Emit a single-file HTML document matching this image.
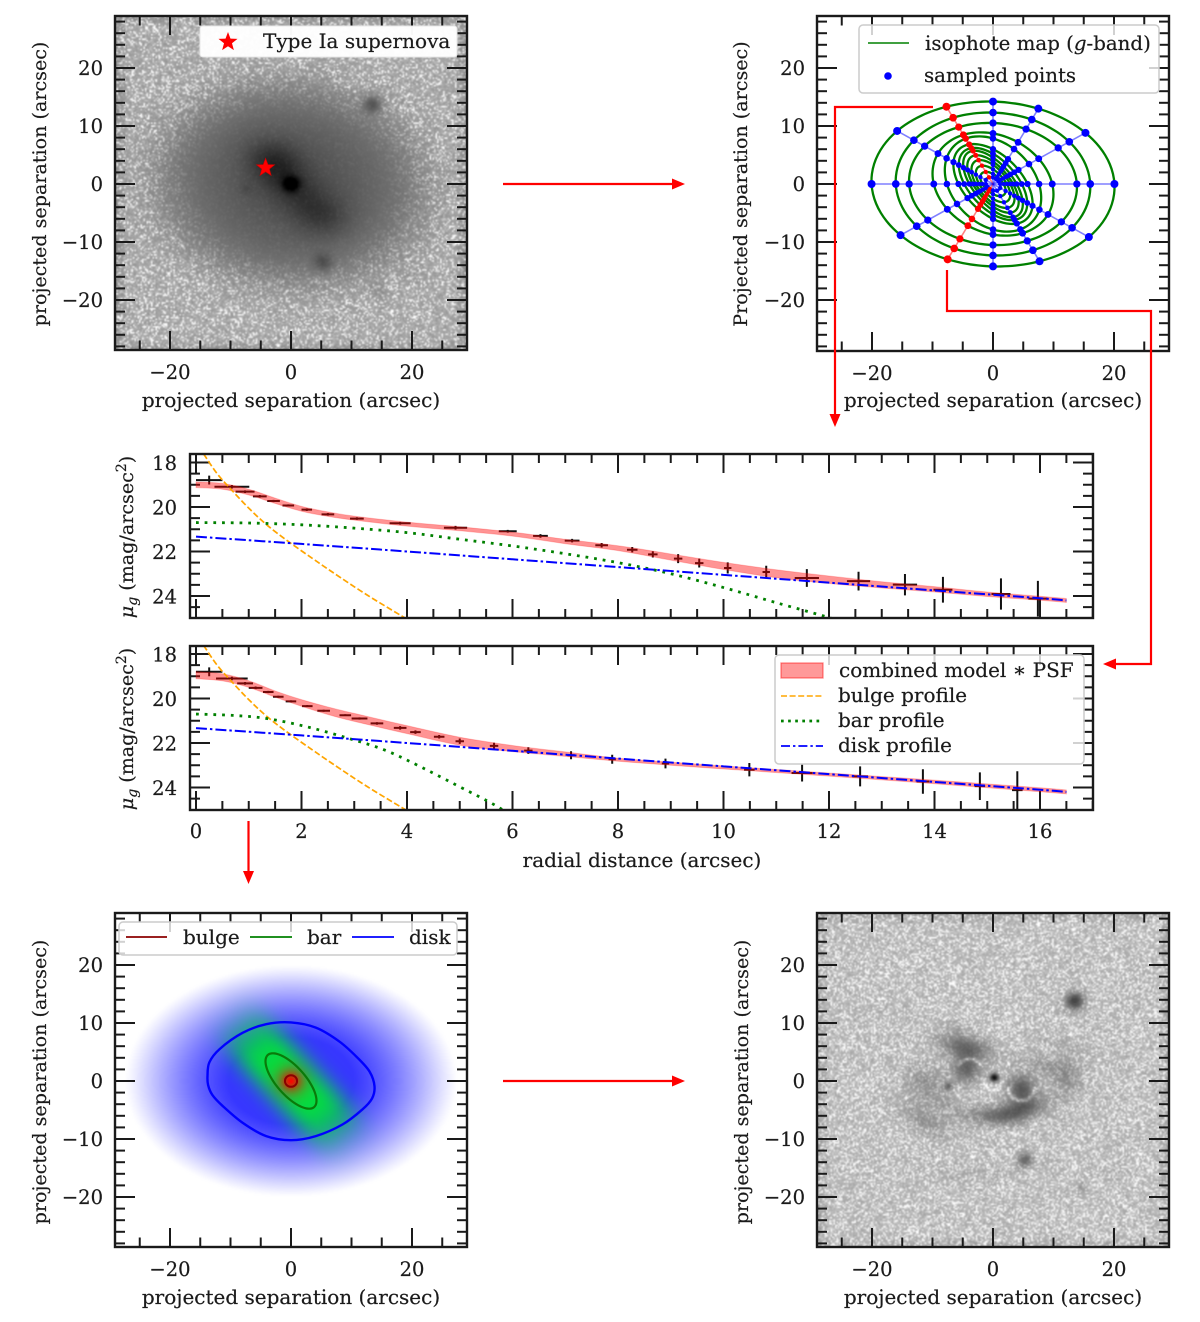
<!DOCTYPE html>
<html lang="en">
<head>
<meta charset="utf-8">
<title>Galaxy decomposition figure</title>
<style>
html,body{margin:0;padding:0;background:#fff;}
#stage{position:relative;width:1200px;height:1322px;overflow:hidden;background:#fff;}
canvas{position:absolute;width:352px;height:334px;filter:blur(.4px);}
svg{position:absolute;left:0;top:0;filter:blur(.3px);}
text{font-family:"DejaVu Serif","Liberation Serif",serif;font-size:20px;fill:#1a1a1a;stroke:#1a1a1a;stroke-width:.2;}
text.tick{font-size:19.5px;}
text.ylab{font-size:19.1px;}
.leg{fill:#fff;fill-opacity:.8;stroke:#ccc;stroke-width:1.5;}
.arrow{stroke:#f00;stroke-width:2.2;fill:none;}
.head{fill:#f00;stroke:none;}
</style>
</head>
<body>
<div id="stage">
<canvas id="cA" width="235" height="223" style="left:115px;top:16px"></canvas>
<canvas id="cD" width="235" height="223" style="left:115px;top:913px"></canvas>
<canvas id="cE" width="235" height="223" style="left:817px;top:913px"></canvas>
<svg id="fig" width="1200" height="1322" viewBox="0 0 1200 1322" xmlns="http://www.w3.org/2000/svg">
<defs>
<clipPath id="clipP1"><rect x="190" y="454" width="903" height="164"/></clipPath>
<clipPath id="clipP2"><rect x="190" y="646" width="903" height="164"/></clipPath>
</defs>
<g id="panelA"></g>
<g id="panelB"></g>
<g id="panelP1"></g>
<g id="panelP2"></g>
<g id="panelD"></g>
<g id="panelE"></g>

<!-- axis titles -->
<text x="291" y="407" text-anchor="middle">projected separation (arcsec)</text>
<text class="ylab" transform="translate(46,184) rotate(-90)" text-anchor="middle">projected separation (arcsec)</text>
<text x="993" y="407" text-anchor="middle">projected separation (arcsec)</text>
<text class="ylab" transform="translate(747,184) rotate(-90)" text-anchor="middle">Projected separation (arcsec)</text>
<text x="291" y="1304" text-anchor="middle">projected separation (arcsec)</text>
<text class="ylab" transform="translate(46,1082) rotate(-90)" text-anchor="middle">projected separation (arcsec)</text>
<text x="993" y="1304" text-anchor="middle">projected separation (arcsec)</text>
<text class="ylab" transform="translate(748,1082) rotate(-90)" text-anchor="middle">projected separation (arcsec)</text>
<text x="642" y="867" text-anchor="middle">radial distance (arcsec)</text>
<text class="ylab" transform="translate(133,537) rotate(-90)" text-anchor="middle"><tspan font-style="italic">μ</tspan><tspan font-style="italic" font-size="14" dy="4">g</tspan><tspan dy="-4"> (mag/arcsec</tspan><tspan font-size="14" dy="-7">2</tspan><tspan dy="7">)</tspan></text>
<text class="ylab" transform="translate(133,729) rotate(-90)" text-anchor="middle"><tspan font-style="italic">μ</tspan><tspan font-style="italic" font-size="14" dy="4">g</tspan><tspan dy="-4"> (mag/arcsec</tspan><tspan font-size="14" dy="-7">2</tspan><tspan dy="7">)</tspan></text>

<!-- legend: supernova -->
<g>
<rect x="200" y="26" width="257" height="31" rx="3" fill="#fff" fill-opacity=".97" stroke="#e6e6e6"/>
<g id="legStar"></g>
<text x="263" y="48">Type Ia supernova</text>
</g>

<!-- legend: isophotes -->
<g>
<rect class="leg" x="859" y="25" width="300" height="68" rx="4"/>
<line x1="868" y1="43" x2="909" y2="43" stroke="#008000" stroke-width="1.5"/>
<text x="925" y="50" font-size="19.8" style="font-size:19.8px">isophote map (<tspan font-style="italic">g</tspan>-band)</text>
<circle cx="888" cy="76" r="3.8" fill="#00f"/>
<text x="924" y="82" style="font-size:19.8px">sampled points</text>
</g>

<!-- legend: profile -->
<g>
<rect class="leg" x="775" y="655" width="309" height="109" rx="4"/>
<rect x="781" y="663" width="42" height="15" fill="#f00" fill-opacity=".4" stroke="#f00" stroke-opacity=".45" stroke-width="1.3"/>
<text x="839" y="677">combined model ∗ PSF</text>
<line x1="781" y1="696" x2="823" y2="696" stroke="#ffa500" stroke-width="1.6" stroke-dasharray="6 2.6"/>
<text x="838" y="702">bulge profile</text>
<line x1="781" y1="721" x2="823" y2="721" stroke="#008000" stroke-width="2.7" stroke-dasharray="2.7 4.4"/>
<text x="838" y="727">bar profile</text>
<line x1="781" y1="746" x2="823" y2="746" stroke="#00f" stroke-width="1.8" stroke-dasharray="9 3 2.4 3"/>
<text x="838" y="752">disk profile</text>
</g>

<!-- legend: model -->
<g>
<rect class="leg" x="119" y="922" width="338" height="33" rx="4"/>
<line x1="126" y1="937" x2="167" y2="937" stroke="#8b0000" stroke-width="1.8"/>
<text x="183" y="944">bulge</text>
<line x1="250" y1="937" x2="292" y2="937" stroke="#008000" stroke-width="1.8"/>
<text x="307" y="944">bar</text>
<line x1="352" y1="937" x2="394" y2="937" stroke="#00f" stroke-width="1.8"/>
<text x="409" y="944">disk</text>
</g>

<!-- arrows -->
<g><path class="arrow" d="M503 184H674"/><path class="head" d="M685 184L672 178.5V189.500Z"/></g>
<g><path class="arrow" d="M503 1081H674"/><path class="head" d="M685 1081L672 1075.5V1086.500Z"/></g>
<g><path class="arrow" d="M933 107H835V415"/><path class="head" d="M835 427L829.500 414H840.500Z"/></g>
<g><path class="arrow" d="M947 270V311H1151V664H1114"/><path class="head" d="M1103 664L1116 658.500V669.500Z"/></g>
<g><path class="arrow" d="M248.500 821V872"/><path class="head" d="M248.500 884L243 871H254Z"/></g>
</svg>
</div>

<script>
/* ---------- profile data, top panel ---------- */
const topRadius = [.25,.68,.93,1.21,1.47,1.75,2.1,2.5,3.05,3.87,4.92,5.91,6.53,7.13,7.69,8.27,8.66,9.14,9.54,10.08,10.81,11.58,12.56,13.44,14.16,15.26,15.96];
const topMu = [18.79,19.09,19.31,19.52,19.73,19.93,20.12,20.33,20.52,20.73,20.93,21.09,21.3,21.51,21.72,21.92,22.13,22.32,22.52,22.74,22.92,23.19,23.33,23.49,23.72,23.91,24.12];
const topXerr = [.25,.33,.18,.13,.12,.11,.1,.12,.13,.2,.22,.17,.14,.14,.12,.1,.09,.08,.08,.07,.07,.23,.22,.23,.18,.18,.18];
const topYerr = [.2,.08,.06,.06,.05,.05,.06,.06,.06,.06,.08,.06,.08,.08,.1,.12,.14,.2,.2,.25,.28,.4,.42,.48,.58,.7,.8];
const topModelR = [0,.5,1,1.5,2,2.5,3,4,5,6,7,8,9,10,11,12,13,14,15,16,16.5];
const topModelMu = [19,19.07,19.33,19.72,20.08,20.32,20.5,20.77,20.98,21.22,21.55,21.85,22.25,22.65,23,23.27,23.5,23.7,23.92,24.1,24.2];
const topModelHalf = [.13,.13,.13,.12,.11,.1,.09,.09,.09,.09,.1,.11,.14,.16,.18,.17,.14,.12,.1,.09,.09];
const topBarR = [0,1,2,3,4,5,6,7,8,9,10,11,12,12.4];
const topBarMu = [20.7,20.72,20.8,20.95,21.15,21.45,21.75,22.1,22.5,23,23.62,24.3,24.97,25.3];

/* ---------- profile data, bottom panel ---------- */
const botRadius = [.25,.68,.93,1.13,1.37,1.56,1.8,2.11,2.42,2.83,3.1,3.43,3.87,4.16,4.61,5,5.65,6.3,7.11,7.89,8.9,10.49,11.49,12.59,13.78,14.86,15.57];
const botMu = [18.8,19.1,19.32,19.52,19.71,19.92,20.13,20.34,20.55,20.75,20.9,21.12,21.32,21.51,21.72,21.92,22.13,22.34,22.55,22.73,22.92,23.2,23.35,23.5,23.73,23.94,24.12];
const botXerr = [.25,.3,.15,.13,.1,.1,.1,.1,.12,.11,.15,.12,.12,.1,.1,.08,.08,.08,.07,.07,.07,.1,.2,.15,.12,.1,.1];
const botYerr = [.2,.08,.06,.06,.05,.05,.05,.05,.05,.05,.05,.06,.08,.08,.08,.12,.14,.15,.18,.2,.22,.3,.38,.45,.55,.62,.85];
const botModelR = [0,.5,1,1.5,2,2.5,3,4,5,6,7,8,9,10,12,14,16,16.5];
const botModelMu = [18.95,19.05,19.35,19.8,20.2,20.55,20.85,21.4,21.92,22.25,22.5,22.75,22.93,23.1,23.42,23.75,24.1,24.2];
const botModelHalf = [.16,.16,.15,.14,.15,.17,.18,.18,.18,.14,.1,.07,.07,.07,.07,.08,.09,.09];
const botBarR = [0,.7,1.34,2.1,2.86,3.56,4.2,5,5.52,5.8,6.1];
const botBarMu = [20.7,20.76,20.9,21.27,21.77,22.3,23,23.97,24.6,24.98,25.4];

/* ---------- profile components shared by both panels ---------- */
const bulgeR = [.05,.14,.4,.68,1,1.34,1.75,2.2,2.6,3.24,3.97,4.2];
const bulgeMu = [17.3,17.6,18.5,19.25,20.05,20.8,21.55,22.3,22.95,23.95,25,25.35];
const diskR = [0,2,4,6,8,10,12,14,16,16.5];
const diskMu = [21.33,21.66,22,22.35,22.7,23.05,23.4,23.75,24.1,24.2];

/* ---------- tick labels ---------- */
const radialTicks = [0,2,4,6,8,10,12,14,16];
const muTicks = [18,20,22,24];
const imageXTicks = [-20,0,20];
const imageYTicks = [-20,-10,0,10,20];

/* ---------- supernova position (arcsec) ---------- */
const snX = [-4.2];
const snY = [2.8];

/* ---------- isophotes (arcsec, degrees) ---------- */
const isoMajor = [20.1,16.1,13.9,10.5,9.2,8.2,7.4,6.8,5.9,4.9,3.8,2.6,1.4];
const isoMinor = [14.2,12.3,10.5,8.3,6.8,4.8,4,3.3,2.8,2.4,1.9,1.4,1];
const isoAngle = [-3,-4,-5,-30,-48,-48,-50,-52,-52,-52,-50,-45,-40];
const spokeAngles = [0,30,60,90,120,150,180,210,240,270,300,330];
const redSpokes = [120,240];

/* ---------- model contours (arcsec) ---------- */
const diskContourX = [-13.8,-13.5,-11.8,-8,-4.1,0,4.1,8,11,13,13.8,13.4,11.8,8.5,4.1,0,-4.1,-8,-11.3,-13,-13.7];
const diskContourY = [.9,3.2,5.5,8.3,9.8,10.1,9.2,6.8,4,1.6,-.9,-3,-4.9,-7.5,-9.5,-10.2,-9.5,-7.2,-4.3,-2.4,-.7];
const barContourMajor = [5.9];
const barContourMinor = [2.4];
const barContourAngle = [-50];
const bulgeContourRadius = [1];

/* ---------- image components [x, y, sigmaU, sigmaV, rotation, amplitude] ---------- */
const galaxyBlobs = [
  [0,0,10,8,-20,36],[0,0,5,2.5,-48,32],[5.5,-5.5,3,2.5,0,24],[-3,4,3,2.5,0,26],
  [0,0,.9,.85,0,85],[13.5,13.8,1.1,1.1,0,62],[5.3,-13.6,1.1,1.1,0,38],
  [14.7,-18.5,1.2,1.2,0,18],[19.9,-15.9,1.1,1.1,0,12],[-7.4,-.9,.7,.7,0,10]
];
const residualBlobs = [
  [13.5,13.8,1.1,1.1,0,115],[5.3,-13.6,.9,.9,0,80],[14.7,-18.5,.8,.8,0,25],[19.9,-15.9,.8,.8,0,15],
  [.2,.6,.5,.5,0,170],[-7.4,-.9,.5,.5,0,65],[-4.6,5.9,3.2,1.4,-12,72],[-4.4,2.2,1.7,1.8,0,80],
  [4.7,-1.3,1.8,1.8,0,88],[4.7,-4.9,3.2,1.3,15,72],[-.5,-5.9,3.6,1.2,-5,48],[12.2,.5,1.9,2.3,0,38],
  [8.3,2.8,3,1.1,-15,26],[-11.5,-.1,2.5,2.3,0,32],[-11,-7,3,1.5,-35,36],[-8,-4,3,1.5,-45,22],
  [-3.8,-16,5,1,0,13],[11,6,4,1.5,-15,12],[-6,9,1.5,1,0,15]
];
/* [x, y, radius, startDeg, endDeg, amplitude] */
const residualArcs = [[4.7,-1.3,2.1,170,370,55],[-3.8,1.6,2.2,30,150,50],[0,0,1.5,180,360,35]];

/* ---------- axis functions ---------- */
const ARC_X = 6.05, ARC_Y = 5.8, RAD = 52.75, MAG = 22.25;
const xArc = (v, x0) => x0 + ARC_X * v;
const yArc = (v, y0) => y0 - ARC_Y * v;
const xRad = v => 196 + RAD * v;
const yMag = (v, y20) => y20 + (v - 20) * MAG;

const NS = 'http://www.w3.org/2000/svg';
function mk(tag, attrs, parent) {
  const el = document.createElementNS(NS, tag);
  for (const k in attrs) el.setAttribute(k, attrs[k]);
  parent.appendChild(el);
  return el;
}
function smooth(pts, closed) {
  const n = pts.length;
  const at = i => closed ? pts[(i + n) % n] : pts[Math.max(0, Math.min(n - 1, i))];
  let d = 'M' + pts[0][0].toFixed(2) + ' ' + pts[0][1].toFixed(2);
  const last = closed ? n : n - 1;
  for (let i = 0; i < last; i++) {
    const p0 = at(i - 1), p1 = at(i), p2 = at(i + 1), p3 = at(i + 2);
    const c1x = p1[0] + (p2[0] - p0[0]) / 6, c1y = p1[1] + (p2[1] - p0[1]) / 6;
    const c2x = p2[0] - (p3[0] - p1[0]) / 6, c2y = p2[1] - (p3[1] - p1[1]) / 6;
    d += 'C' + c1x.toFixed(2) + ' ' + c1y.toFixed(2) + ' ' + c2x.toFixed(2) + ' ' + c2y.toFixed(2) + ' ' + p2[0].toFixed(2) + ' ' + p2[1].toFixed(2);
  }
  return closed ? d + 'Z' : d;
}
function fmt(v) { return v < 0 ? '\u2212' + Math.abs(v) : String(v); }

/* ---------- tick drawing ---------- */
function addTick(parent, x1, y1, x2, y2, w) {
  const t = mk('line', {x1: x1, y1: y1, x2: x2, y2: y2, stroke: '#1a1a1a', 'stroke-width': w}, parent);
  
  
}
function addFrame(parent, l, t, r, b) {
  const f = mk('rect', {x: l, y: t, width: r - l, height: b - t, fill: 'none', stroke: '#1a1a1a', 'stroke-width': 2.4}, parent);
  
  
}
function addLabel(parent, x, y, str, anchor) {
  const t = mk('text', {x: x, y: y, 'text-anchor': anchor, 'class': 'tick'}, parent);
  t.textContent = str;
  
  
}
function imageAxes(g, l, t, r, b, x0, y0) {
  for (let v = -25; v <= 25; v += 5) {
    const major = imageXTicks.includes(v);
    const len = major ? 19 : 9.5, x = xArc(v, x0);
    addTick(g, x, b, x, b - len, 2);
    addTick(g, x, t, x, t + len, 2);
  }
  for (let v = -28; v <= 28; v += 2) {
    const major = imageYTicks.includes(v);
    const len = major ? 20 : 10, y = yArc(v, y0);
    addTick(g, l, y, l + len, y, 2);
    addTick(g, r, y, r - len, y, 2);
  }
  imageXTicks.forEach(v => addLabel(g, xArc(v, x0), b + 29, fmt(v), 'middle'));
  imageYTicks.forEach(v => addLabel(g, l - 12, yArc(v, y0) + 7, fmt(v), 'end'));
  addFrame(g, l, t, r, b);
}

/* ---------- profile panels ---------- */
function drawProfile(g, clip, t, b, y20, pr, pm, pxe, pye, mr, mm, mh, br, bm, showX) {
  const l = 190, r = 1093;
  for (let v = 0; v <= 17; v += .5) {
    const major = radialTicks.includes(v);
    const len = major ? 19 : 9, x = xRad(v);
    addTick(g, x, b, x, b - len, 2);
    addTick(g, x, t, x, t + len, 2);
  }
  for (let v = 18; v <= 24.5; v += .5) {
    const major = muTicks.includes(v);
    const len = major ? 20 : 10, y = yMag(v, y20);
    addTick(g, l, y, l + len, y, 2);
    addTick(g, r, y, r - len, y, 2);
  }
  muTicks.forEach(v => addLabel(g, 177, yMag(v, y20) + 7.5, String(v), 'end'));
  if (showX) radialTicks.forEach(v => addLabel(g, xRad(v), b + 28, String(v), 'middle'));

  const c = mk('g', {'clip-path': 'url(#' + clip + ')'}, g);
  
  

  pr.forEach((rv, i) => {
    const e = mk('path', {
      d: 'M' + xRad(rv - pxe[i]) + ' ' + yMag(pm[i], y20) + 'H' + xRad(rv + pxe[i]) +
         'M' + xRad(rv) + ' ' + yMag(pm[i] - pye[i], y20) + 'V' + yMag(pm[i] + pye[i], y20),
      stroke: '#111', 'stroke-width': 2, fill: 'none'
    }, c);
    
    
  });

  const upper = mr.map((v, i) => [xRad(v), yMag(mm[i] - mh[i], y20)]);
  const lower = mr.map((v, i) => [xRad(v), yMag(mm[i] + mh[i], y20)]).reverse();
  const bandPath = smooth(upper, false) + smooth(lower, false).replace('M', 'L') + 'Z';
  const band = mk('path', {d: bandPath, fill: '#f00', 'fill-opacity': .42, stroke: '#f00', 'stroke-opacity': .2, 'stroke-width': 1}, c);
  
  

  const bl = mk('path', {d: smooth(bulgeR.map((v, i) => [xRad(v), yMag(bulgeMu[i], y20)]), false), fill: 'none', stroke: '#ffa500', 'stroke-width': 1.7, 'stroke-dasharray': '6 2.6'}, c);
  
  

  const ba = mk('path', {d: smooth(br.map((v, i) => [xRad(v), yMag(bm[i], y20)]), false), fill: 'none', stroke: '#008000', 'stroke-width': 2.8, 'stroke-dasharray': '2.8 5.9'}, c);
  
  

  const di = mk('path', {d: smooth(diskR.map((v, i) => [xRad(v), yMag(diskMu[i], y20)]), false), fill: 'none', stroke: '#00f', 'stroke-width': 2, 'stroke-dasharray': '11 3 2.5 3'}, c);
  
  

  addFrame(g, l, t, r, b);
}
drawProfile(document.getElementById('panelP1'), 'clipP1', 454, 618, 507, topRadius, topMu, topXerr, topYerr, topModelR, topModelMu, topModelHalf, topBarR, topBarMu, false);
drawProfile(document.getElementById('panelP2'), 'clipP2', 646, 810, 698.5, botRadius, botMu, botXerr, botYerr, botModelR, botModelMu, botModelHalf, botBarR, botBarMu, true);

/* ---------- image panel axes ---------- */
const panelA = document.getElementById('panelA');
const panelB = document.getElementById('panelB');
const panelD = document.getElementById('panelD');
const panelE = document.getElementById('panelE');

/* ---------- star markers ---------- */
function starPoints(cx, cy, R) {
  const p = [];
  for (let i = 0; i < 10; i++) {
    const rad = i % 2 ? R * .42 : R, a = -Math.PI / 2 + i * Math.PI / 5;
    p.push((cx + rad * Math.cos(a)).toFixed(2) + ',' + (cy + rad * Math.sin(a)).toFixed(2));
  }
  return p.join(' ');
}
imageAxes(panelA, 115, 16, 467, 350, 291, 184);
snX.forEach((v, i) => {
  const s = mk('polygon', {points: starPoints(xArc(v, 291), yArc(snY[i], 184), 9.5), fill: '#f00', stroke: '#c00', 'stroke-width': .6}, panelA);
  
  
});
const legendStar = mk('polygon', {points: starPoints(228, 42, 10), fill: '#f00'}, document.getElementById('legStar'));



/* ---------- isophote panel ---------- */
function isoRadius(i, thetaDeg) {
  const a = isoMajor[i], b = isoMinor[i], phi = (thetaDeg - isoAngle[i]) * Math.PI / 180;
  return a * b / Math.hypot(b * Math.cos(phi), a * Math.sin(phi));
}
imageAxes(panelB, 817, 16, 1169, 351, 993, 184);
isoMajor.forEach((_, i) => {
  const pts = [];
  for (let k = 0; k < 72; k++) {
    const th = k * 5, rr = isoRadius(i, th);
    pts.push([xArc(rr * Math.cos(th * Math.PI / 180), 993), yArc(rr * Math.sin(th * Math.PI / 180), 184)]);
  }
  const e = mk('path', {d: smooth(pts, true), fill: 'none', stroke: '#008000', 'stroke-width': 2.3}, panelB);
  
  
});
spokeAngles.forEach(th => {
  const col = redSpokes.includes(th) ? '#f00' : '#00f';
  const rad = th * Math.PI / 180, out = isoRadius(0, th);
  const sp = mk('line', {x1: 993, y1: 184, x2: xArc(out * Math.cos(rad), 993), y2: yArc(out * Math.sin(rad), 184), stroke: col, 'stroke-width': 1.6, 'stroke-opacity': .5}, panelB);
  
  
});
spokeAngles.forEach(th => {
  const col = redSpokes.includes(th) ? '#f00' : '#00f';
  const rad = th * Math.PI / 180;
  isoMajor.forEach((_, i) => {
    const rr = isoRadius(i, th);
    const dot = mk('circle', {cx: xArc(rr * Math.cos(rad), 993), cy: yArc(rr * Math.sin(rad), 184), r: Math.max(2.2, 4 - i * .18), fill: col}, panelB);
    
    
  });
});

/* ---------- model panel contours ---------- */
imageAxes(panelD, 115, 913, 467, 1247, 291, 1081);
const diskLine = mk('path', {d: smooth(diskContourX.map((v, i) => [xArc(v, 291), yArc(diskContourY[i], 1081)]), true), fill: 'none', stroke: '#00f', 'stroke-width': 2.4}, panelD);


{
  const a = barContourMajor[0], b = barContourMinor[0], pa = barContourAngle[0] * Math.PI / 180, pts = [];
  for (let k = 0; k < 48; k++) {
    const t = k * Math.PI / 24, u = a * Math.cos(t), v = b * Math.sin(t);
    pts.push([xArc(u * Math.cos(pa) - v * Math.sin(pa), 291), yArc(u * Math.sin(pa) + v * Math.cos(pa), 1081)]);
  }
  const barLine = mk('path', {d: smooth(pts, true), fill: 'none', stroke: '#0a7a0a', 'stroke-width': 2.2}, panelD);
  
  
}
const bulgeLine = mk('ellipse', {cx: xArc(0, 291), cy: yArc(0, 1081), rx: bulgeContourRadius[0] * ARC_X, ry: bulgeContourRadius[0] * ARC_Y, fill: 'none', stroke: '#8b0000', 'stroke-width': 2}, panelD);



imageAxes(panelE, 817, 913, 1169, 1247, 993, 1081);

/* ---------- images ---------- */
function blobSum(list, x, y) {
  let s = 0;
  for (const [cx, cy, su, sv, rot, amp] of list) {
    const c = Math.cos(rot * Math.PI / 180), n = Math.sin(rot * Math.PI / 180);
    const dx = x - cx, dy = y - cy, u = dx * c + dy * n, v = -dx * n + dy * c;
    s += amp * Math.exp(-.5 * (u * u / (su * su) + v * v / (sv * sv)));
  }
  return s;
}
let texState = 20211;
function tex() {
  texState = (texState + 0x6D2B79F5) | 0;
  let t = Math.imul(texState ^ (texState >>> 15), 1 | texState);
  t = (t + Math.imul(t ^ (t >>> 7), 61 | t)) ^ t;
  return ((t ^ (t >>> 14)) >>> 0) / 4294967296;
}
function paint(id, left, top, x0, y0, fn) {
  const cv = document.getElementById(id), ctx = cv.getContext('2d');
  const w = cv.width, h = cv.height, im = ctx.createImageData(w, h);
  for (let j = 0; j < h; j++) {
    for (let i = 0; i < w; i++) {
      const X = (left + (i + .5) * 352 / w - x0) / ARC_X;
      const Y = (y0 - (top + (j + .5) * 334 / h)) / ARC_Y;
      const c = fn(X, Y), k = (j * w + i) * 4;
      im.data[k] = c[0]; im.data[k + 1] = c[1]; im.data[k + 2] = c[2]; im.data[k + 3] = 255;
    }
  }
  ctx.putImageData(im, 0, 0);
}
function edgeDark(x, y) {
  const e = Math.max(Math.abs(x), Math.abs(y)) / 29;
  return e > .93 ? 22 * (e - .93) / .07 : 0;
}
paint('cA', 115, 16, 291, 184, (x, y) => {
  const c = Math.cos(-5 * Math.PI / 180), s = Math.sin(-5 * Math.PI / 180);
  const u = (x * c + y * s) / 22.5, v = (-x * s + y * c) / 17.5, re = Math.hypot(u, v);
  const d = 60 * Math.exp(-Math.pow(re / 1.02, 6)) + blobSum(galaxyBlobs, x, y);
  const n = tex(), w = Math.max(.08, Math.min(1, 1 - d / 70));
  const g = 172 - d + (n * n * n * n * n * 150 + (tex() - .5) * 24 - 12) * w - edgeDark(x, y);
  const q = Math.max(0, Math.min(255, g));
  return [q, q, q];
});
paint('cE', 817, 913, 993, 1081, (x, y) => {
  let d = blobSum(residualBlobs, x, y);
  for (const [cx, cy, rad, a0, a1, amp] of residualArcs) {
    const dx = x - cx, dy = y - cy, dr = Math.hypot(dx, dy) - rad;
    let a = Math.atan2(dy, dx) * 180 / Math.PI;
    if (a < 0) a += 360;
    if (a >= a0 && a <= a1 || a + 360 <= a1) d -= amp * Math.exp(-.5 * dr * dr / .05);
  }
  const n = tex(), w = Math.max(.15, 1 - Math.max(0, d) / 90);
  const g = 178 - d + (n * n * n * 110 + (tex() - .5) * 26 - 4) * w - edgeDark(x, y);
  const q = Math.max(0, Math.min(255, g));
  return [q, q, q];
});
paint('cD', 115, 913, 291, 1081, (x, y) => {
  const re = Math.hypot(x / 27.5, y / 20);
  const a = re >= 1 ? 0 : Math.min(1, 1.2 * Math.pow(1 - re * re, 1.2));
  let R = 255 - 200 * a, G = 255 - 200 * a, B = 255;
  const pa = -48 * Math.PI / 180, u = x * Math.cos(pa) + y * Math.sin(pa), v = -x * Math.sin(pa) + y * Math.cos(pa);
  const gw = .97 * Math.exp(-Math.pow(Math.abs(u) / 12.5, 4) - Math.pow(Math.abs(v) / 4.8, 3));
  R += (0 - R) * gw; G += (230 - G) * gw; B += (55 - B) * gw;
  const rw = Math.exp(-Math.pow(Math.hypot(x, y) / 1.9, 1.5));
  R += (255 - R) * rw; G += (0 - G) * rw; B += (0 - B) * rw;
  return [R, G, B];
});
</script>
</body>
</html>
